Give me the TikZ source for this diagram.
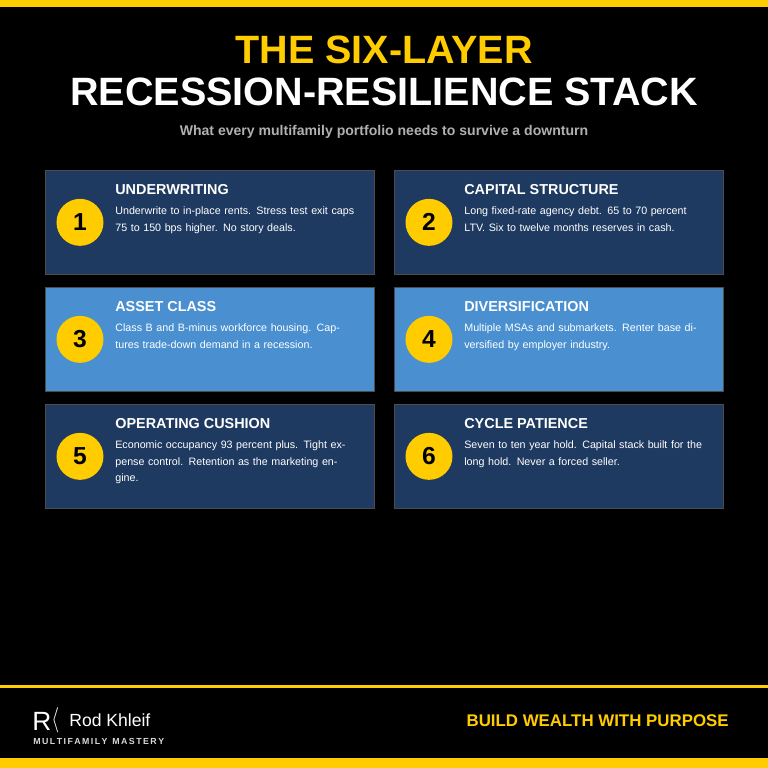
\documentclass[tikz,border=0pt]{standalone}
\usepackage{fontspec}
\setmainfont{Liberation Sans}
\usetikzlibrary{positioning}
\definecolor{gold}{HTML}{FFCC00}
\definecolor{navy}{HTML}{1F3A60}
\definecolor{sky}{HTML}{4A90D0}
\definecolor{subgray}{HTML}{B0B0B0}
\tikzset{
  card/.style={draw=black!70,line width=0.4pt,minimum width=6.58cm,minimum height=2.08cm,anchor=north west,inner sep=0pt},
  num/.style={circle,fill=gold,minimum size=0.94cm,inner sep=0pt,font=\bfseries\fontsize{14}{14}\selectfont},
  head/.style={anchor=base west,text=white,font=\bfseries\fontsize{8.2}{10}\selectfont,inner sep=0pt},
  body/.style={anchor=north west,text=white,text width=4.8cm,align=left,inner sep=0pt,font=\fontsize{6.1}{9.4}\selectfont}
}
\newcommand{\stackcard}[7]{%
  \node[card,fill=#3] (c#1) at (#2) {};
  \node[num] (n#1) at ([xshift=0.7cm]c#1.west) {#1};
  \node[head] (h#1) at ([xshift=1.4cm,yshift=-0.49cm]c#1.north west) {#4};
  \node[body] (b#1) at ([xshift=1.4cm,yshift=-0.73cm]c#1.north west) {#5};
}
\begin{document}
\begin{tikzpicture}[x=0.02cm,y=-0.02cm]
\fill[black] (0,0) rectangle (768,768);
\useasboundingbox (0,0) rectangle (768,768);
\fill[gold] (0,0) rectangle (768,7);
\fill[gold] (0,685) rectangle (768,688);
\fill[gold] (0,758) rectangle (768,768);
% title
\node[text=gold,font=\bfseries\fontsize{22.5}{24}\selectfont] (t1) at (384,50) {THE SIX-LAYER};
\node[text=white,font=\bfseries\fontsize{22.5}{24}\selectfont] (t2) at (384,92) {RECESSION-RESILIENCE STACK};
\node[text=subgray,font=\bfseries\fontsize{8}{10}\selectfont] (sub) at (384,132) {What every multifamily portfolio needs to survive a downturn};
% cards
\stackcard{1}{45,170}{navy}{UNDERWRITING}{Underwrite to in-place rents. Stress test exit caps 75 to 150 bps higher. No story deals.}{}{}
\stackcard{2}{394,170}{navy}{CAPITAL STRUCTURE}{Long fixed-rate agency debt. 65 to 70 percent LTV. Six to twelve months reserves in cash.}{}{}
\stackcard{3}{45,287}{sky}{ASSET CLASS}{Class B and B-minus workforce housing. Captures trade-down demand in a recession.}{}{}
\stackcard{4}{394,287}{sky}{DIVERSIFICATION}{Multiple MSAs and submarkets. Renter base diversified by employer industry.}{}{}
\stackcard{5}{45,404}{navy}{OPERATING CUSHION}{Economic occupancy 93 percent plus. Tight expense control. Retention as the marketing engine.}{}{}
\stackcard{6}{394,404}{navy}{CYCLE PATIENCE}{Seven to ten year hold. Capital stack built for the long hold. Never a forced seller.}{}{}
% footer
\node[text=white,anchor=west,inner sep=0pt,font=\fontsize{15}{15}\selectfont] (logo) at (32,720) {R\raisebox{0.3ex}{\scalebox{0.8}[1]{$\langle$}}};
\node[text=white,anchor=west,inner sep=0pt,font=\fontsize{10}{12}\selectfont] (name) at (69,720) {Rod Khleif};
\node[text=white!85!black,anchor=west,inner sep=0pt,font=\bfseries\fontsize{5}{6}\selectfont] (tag) at (33,741) {M\,U\,L\,T\,I\,F\,A\,M\,I\,L\,Y\ \ M\,A\,S\,T\,E\,R\,Y};
\node[text=gold,anchor=east,inner sep=0pt,font=\bfseries\fontsize{9.6}{12}\selectfont] (motto) at (729,721) {BUILD WEALTH WITH PURPOSE};
\end{tikzpicture}
\end{document}
